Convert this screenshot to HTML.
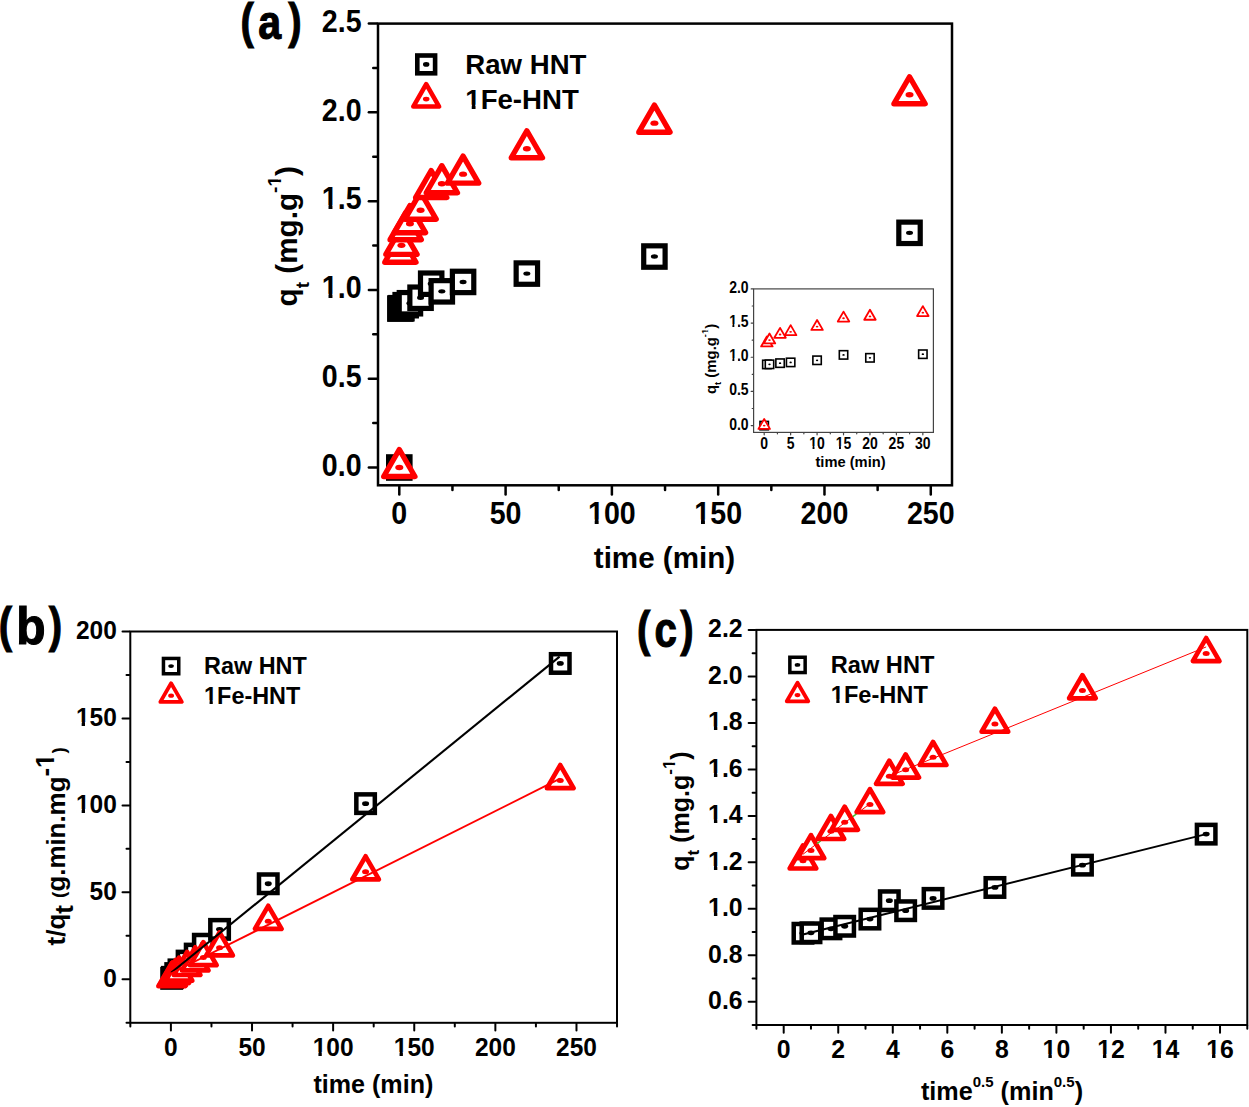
<!DOCTYPE html><html><head><meta charset="utf-8"><style>
html,body{margin:0;padding:0;background:#fff;}
svg{display:block;}
text{font-family:"Liberation Sans", sans-serif;font-weight:bold;fill:#000;}
</style></head><body>
<svg width="1249" height="1107" viewBox="0 0 1249 1107">
<rect width="1249" height="1107" fill="#fff"/>
<line x1="399.3" y1="486.55" x2="399.3" y2="494.45" stroke="#000" stroke-width="2.5" stroke-linecap="round"/>
<text transform="translate(399.3,523.8) scale(1,1.09)" font-size="28.6" text-anchor="middle" >0</text>
<line x1="505.6" y1="486.55" x2="505.6" y2="494.45" stroke="#000" stroke-width="2.5" stroke-linecap="round"/>
<text transform="translate(505.6,523.8) scale(1,1.09)" font-size="28.6" text-anchor="middle" >50</text>
<line x1="611.89" y1="486.55" x2="611.89" y2="494.45" stroke="#000" stroke-width="2.5" stroke-linecap="round"/>
<text transform="translate(611.89,523.8) scale(1,1.09)" font-size="28.6" text-anchor="middle" >100</text><g transform="translate(611.89,523.8) scale(1,1.09)"><rect x="-23.26" y="-3.92" width="6.07" height="4.92" fill="#fff"/><rect x="-13.26" y="-3.92" width="5.71" height="4.92" fill="#fff"/></g>
<line x1="718.18" y1="486.55" x2="718.18" y2="494.45" stroke="#000" stroke-width="2.5" stroke-linecap="round"/>
<text transform="translate(718.18,523.8) scale(1,1.09)" font-size="28.6" text-anchor="middle" >150</text><g transform="translate(718.18,523.8) scale(1,1.09)"><rect x="-23.26" y="-3.92" width="6.07" height="4.92" fill="#fff"/><rect x="-13.26" y="-3.92" width="5.71" height="4.92" fill="#fff"/></g>
<line x1="824.48" y1="486.55" x2="824.48" y2="494.45" stroke="#000" stroke-width="2.5" stroke-linecap="round"/>
<text transform="translate(824.48,523.8) scale(1,1.09)" font-size="28.6" text-anchor="middle" >200</text>
<line x1="930.78" y1="486.55" x2="930.78" y2="494.45" stroke="#000" stroke-width="2.5" stroke-linecap="round"/>
<text transform="translate(930.78,523.8) scale(1,1.09)" font-size="28.6" text-anchor="middle" >250</text>
<line x1="452.45" y1="486.55" x2="452.45" y2="490.05" stroke="#000" stroke-width="2.5" stroke-linecap="round"/>
<line x1="558.74" y1="486.55" x2="558.74" y2="490.05" stroke="#000" stroke-width="2.5" stroke-linecap="round"/>
<line x1="665.04" y1="486.55" x2="665.04" y2="490.05" stroke="#000" stroke-width="2.5" stroke-linecap="round"/>
<line x1="771.33" y1="486.55" x2="771.33" y2="490.05" stroke="#000" stroke-width="2.5" stroke-linecap="round"/>
<line x1="877.63" y1="486.55" x2="877.63" y2="490.05" stroke="#000" stroke-width="2.5" stroke-linecap="round"/>
<line x1="376.75" y1="467.5" x2="368.85" y2="467.5" stroke="#000" stroke-width="2.5" stroke-linecap="round"/>
<text transform="translate(361.6,475.7) scale(1,1.09)" font-size="28.6" text-anchor="end" >0.0</text>
<line x1="376.75" y1="378.71" x2="368.85" y2="378.71" stroke="#000" stroke-width="2.5" stroke-linecap="round"/>
<text transform="translate(361.6,386.91) scale(1,1.09)" font-size="28.6" text-anchor="end" >0.5</text>
<line x1="376.75" y1="289.92" x2="368.85" y2="289.92" stroke="#000" stroke-width="2.5" stroke-linecap="round"/>
<text transform="translate(361.6,298.12) scale(1,1.09)" font-size="28.6" text-anchor="end" >1.0</text><g transform="translate(361.6,298.12) scale(1,1.09)"><rect x="-39.15" y="-3.92" width="6.07" height="4.92" fill="#fff"/><rect x="-29.15" y="-3.92" width="5.71" height="4.92" fill="#fff"/></g>
<line x1="376.75" y1="201.13" x2="368.85" y2="201.13" stroke="#000" stroke-width="2.5" stroke-linecap="round"/>
<text transform="translate(361.6,209.33) scale(1,1.09)" font-size="28.6" text-anchor="end" >1.5</text><g transform="translate(361.6,209.33) scale(1,1.09)"><rect x="-39.15" y="-3.92" width="6.07" height="4.92" fill="#fff"/><rect x="-29.15" y="-3.92" width="5.71" height="4.92" fill="#fff"/></g>
<line x1="376.75" y1="112.34" x2="368.85" y2="112.34" stroke="#000" stroke-width="2.5" stroke-linecap="round"/>
<text transform="translate(361.6,120.54) scale(1,1.09)" font-size="28.6" text-anchor="end" >2.0</text>
<line x1="376.75" y1="23.55" x2="368.85" y2="23.55" stroke="#000" stroke-width="2.5" stroke-linecap="round"/>
<text transform="translate(361.6,31.75) scale(1,1.09)" font-size="28.6" text-anchor="end" >2.5</text>
<line x1="376.75" y1="423.11" x2="373.25" y2="423.11" stroke="#000" stroke-width="2.5" stroke-linecap="round"/>
<line x1="376.75" y1="334.31" x2="373.25" y2="334.31" stroke="#000" stroke-width="2.5" stroke-linecap="round"/>
<line x1="376.75" y1="245.52" x2="373.25" y2="245.52" stroke="#000" stroke-width="2.5" stroke-linecap="round"/>
<line x1="376.75" y1="156.73" x2="373.25" y2="156.73" stroke="#000" stroke-width="2.5" stroke-linecap="round"/>
<line x1="376.75" y1="67.94" x2="373.25" y2="67.94" stroke="#000" stroke-width="2.5" stroke-linecap="round"/>
<rect x="378" y="23.6" width="574" height="461.7" fill="none" stroke="#000" stroke-width="2.5"/>
<rect x="388.6" y="456.8" width="21.4" height="21.4" fill="#fff" stroke="#000" stroke-width="5.2"/><ellipse cx="399.3" cy="467.5" rx="3.5" ry="2.2" fill="#000"/>
<rect x="389.66" y="297.87" width="21.4" height="21.4" fill="#fff" stroke="#000" stroke-width="5.2"/><ellipse cx="400.36" cy="308.57" rx="3.5" ry="2.2" fill="#000"/>
<rect x="390.73" y="297.51" width="21.4" height="21.4" fill="#fff" stroke="#000" stroke-width="5.2"/><ellipse cx="401.43" cy="308.21" rx="3.5" ry="2.2" fill="#000"/>
<rect x="394.98" y="294.49" width="21.4" height="21.4" fill="#fff" stroke="#000" stroke-width="5.2"/><ellipse cx="405.68" cy="305.19" rx="3.5" ry="2.2" fill="#000"/>
<rect x="399.23" y="292.54" width="21.4" height="21.4" fill="#fff" stroke="#000" stroke-width="5.2"/><ellipse cx="409.93" cy="303.24" rx="3.5" ry="2.2" fill="#000"/>
<rect x="409.86" y="287.03" width="21.4" height="21.4" fill="#fff" stroke="#000" stroke-width="5.2"/><ellipse cx="420.56" cy="297.73" rx="3.5" ry="2.2" fill="#000"/>
<rect x="420.49" y="273" width="21.4" height="21.4" fill="#fff" stroke="#000" stroke-width="5.2"/><ellipse cx="431.19" cy="283.7" rx="3.5" ry="2.2" fill="#000"/>
<rect x="431.12" y="280.64" width="21.4" height="21.4" fill="#fff" stroke="#000" stroke-width="5.2"/><ellipse cx="441.82" cy="291.34" rx="3.5" ry="2.2" fill="#000"/>
<rect x="452.38" y="271.23" width="21.4" height="21.4" fill="#fff" stroke="#000" stroke-width="5.2"/><ellipse cx="463.08" cy="281.93" rx="3.5" ry="2.2" fill="#000"/>
<rect x="516.15" y="262.88" width="21.4" height="21.4" fill="#fff" stroke="#000" stroke-width="5.2"/><ellipse cx="526.85" cy="273.58" rx="3.5" ry="2.2" fill="#000"/>
<rect x="643.71" y="245.83" width="21.4" height="21.4" fill="#fff" stroke="#000" stroke-width="5.2"/><ellipse cx="654.41" cy="256.53" rx="3.5" ry="2.2" fill="#000"/>
<rect x="898.82" y="222.13" width="21.4" height="21.4" fill="#fff" stroke="#000" stroke-width="5.2"/><ellipse cx="909.52" cy="232.83" rx="3.5" ry="2.2" fill="#000"/>
<path d="M399.3 449.49L414.9 476.51L383.7 476.51Z" fill="#fff" stroke="#f00" stroke-width="5.4" stroke-linejoin="round"/><ellipse cx="399.3" cy="467.5" rx="4" ry="2.7" fill="#f00"/>
<path d="M400.36 235.22L415.96 262.24L384.76 262.24Z" fill="#fff" stroke="#f00" stroke-width="5.4" stroke-linejoin="round"/><ellipse cx="400.36" cy="253.23" rx="4" ry="2.7" fill="#f00"/>
<path d="M401.43 227.33L417.03 254.35L385.83 254.35Z" fill="#fff" stroke="#f00" stroke-width="5.4" stroke-linejoin="round"/><ellipse cx="401.43" cy="245.35" rx="4" ry="2.7" fill="#f00"/>
<path d="M405.68 212.68L421.28 239.7L390.08 239.7Z" fill="#fff" stroke="#f00" stroke-width="5.4" stroke-linejoin="round"/><ellipse cx="405.68" cy="230.7" rx="4" ry="2.7" fill="#f00"/>
<path d="M409.93 205.67L425.53 232.69L394.33 232.69Z" fill="#fff" stroke="#f00" stroke-width="5.4" stroke-linejoin="round"/><ellipse cx="409.93" cy="223.68" rx="4" ry="2.7" fill="#f00"/>
<path d="M420.56 192.17L436.16 219.19L404.96 219.19Z" fill="#fff" stroke="#f00" stroke-width="5.4" stroke-linejoin="round"/><ellipse cx="420.56" cy="210.19" rx="4" ry="2.7" fill="#f00"/>
<path d="M431.19 170.51L446.79 197.53L415.59 197.53Z" fill="#fff" stroke="#f00" stroke-width="5.4" stroke-linejoin="round"/><ellipse cx="431.19" cy="188.52" rx="4" ry="2.7" fill="#f00"/>
<path d="M441.82 165.71L457.42 192.73L426.22 192.73Z" fill="#fff" stroke="#f00" stroke-width="5.4" stroke-linejoin="round"/><ellipse cx="441.82" cy="183.73" rx="4" ry="2.7" fill="#f00"/>
<path d="M463.08 156.13L478.68 183.14L447.48 183.14Z" fill="#fff" stroke="#f00" stroke-width="5.4" stroke-linejoin="round"/><ellipse cx="463.08" cy="174.14" rx="4" ry="2.7" fill="#f00"/>
<path d="M526.85 130.73L542.45 157.75L511.25 157.75Z" fill="#fff" stroke="#f00" stroke-width="5.4" stroke-linejoin="round"/><ellipse cx="526.85" cy="148.74" rx="4" ry="2.7" fill="#f00"/>
<path d="M654.41 105.16L670.01 132.18L638.81 132.18Z" fill="#fff" stroke="#f00" stroke-width="5.4" stroke-linejoin="round"/><ellipse cx="654.41" cy="123.17" rx="4" ry="2.7" fill="#f00"/>
<path d="M909.52 76.75L925.12 103.77L893.92 103.77Z" fill="#fff" stroke="#f00" stroke-width="5.4" stroke-linejoin="round"/><ellipse cx="909.52" cy="94.76" rx="4" ry="2.7" fill="#f00"/>
<rect x="417.3" y="55.5" width="17.8" height="17.8" fill="#fff" stroke="#000" stroke-width="4.6"/><ellipse cx="426.2" cy="64.4" rx="3.2" ry="2.3" fill="#000"/>
<path d="M426.2 84.2L439.1 106.55L413.3 106.55Z" fill="#fff" stroke="#f00" stroke-width="4.6" stroke-linejoin="round"/><ellipse cx="426.2" cy="99.1" rx="3.3" ry="2.3" fill="#f00"/>
<text x="465.3" y="73.6" font-size="27.6" text-anchor="start" >Raw HNT</text>
<text x="465.3" y="108.5" font-size="27.6" text-anchor="start" >1Fe-HNT</text><g><rect x="465.84" y="104.68" width="5.90" height="4.82" fill="#fff"/><rect x="475.53" y="104.68" width="5.55" height="4.82" fill="#fff"/></g>
<text x="664.5" y="568" font-size="29.6" text-anchor="middle" >time (min)</text>
<text transform="translate(297.2,236.3) rotate(-90)" font-size="29.7" text-anchor="middle">q<tspan font-size="19" dy="12">t</tspan><tspan dy="-12"> (mg.g</tspan><tspan font-size="19" dy="-16">-1</tspan><tspan dy="16">)</tspan></text><g transform="translate(297.2,236.3) rotate(-90)"><rect x="49.68" y="-18.94" width="4.44" height="3.94" fill="#fff"/><rect x="56.72" y="-18.94" width="4.20" height="3.94" fill="#fff"/></g>
<text transform="translate(247.2,38.19) scale(0.8,1)" font-size="50.2" text-anchor="middle" stroke="#000" stroke-width="1.1">(</text>
<text transform="translate(269.7,39.2) scale(0.85,1)" font-size="48.4" text-anchor="middle" stroke="#000" stroke-width="1.1">a</text>
<text transform="translate(294.9,38.19) scale(0.8,1)" font-size="50.2" text-anchor="middle" stroke="#000" stroke-width="1.1">)</text>
<line x1="764.2" y1="433" x2="764.2" y2="434.8" stroke="#444" stroke-width="1.2" stroke-linecap="round"/>
<text transform="translate(764.2,449) scale(1,1.15)" font-size="14" text-anchor="middle" >0</text>
<line x1="790.64" y1="433" x2="790.64" y2="434.8" stroke="#444" stroke-width="1.2" stroke-linecap="round"/>
<text transform="translate(790.64,449) scale(1,1.15)" font-size="14" text-anchor="middle" >5</text>
<line x1="817.08" y1="433" x2="817.08" y2="434.8" stroke="#444" stroke-width="1.2" stroke-linecap="round"/>
<text transform="translate(817.08,449) scale(1,1.15)" font-size="14" text-anchor="middle" >10</text><g transform="translate(817.08,449) scale(1,1.15)"><rect x="-8.10" y="-2.43" width="3.59" height="3.43" fill="#fff"/><rect x="-2.60" y="-2.43" width="3.41" height="3.43" fill="#fff"/></g>
<line x1="843.52" y1="433" x2="843.52" y2="434.8" stroke="#444" stroke-width="1.2" stroke-linecap="round"/>
<text transform="translate(843.52,449) scale(1,1.15)" font-size="14" text-anchor="middle" >15</text><g transform="translate(843.52,449) scale(1,1.15)"><rect x="-8.10" y="-2.43" width="3.59" height="3.43" fill="#fff"/><rect x="-2.60" y="-2.43" width="3.41" height="3.43" fill="#fff"/></g>
<line x1="869.96" y1="433" x2="869.96" y2="434.8" stroke="#444" stroke-width="1.2" stroke-linecap="round"/>
<text transform="translate(869.96,449) scale(1,1.15)" font-size="14" text-anchor="middle" >20</text>
<line x1="896.4" y1="433" x2="896.4" y2="434.8" stroke="#444" stroke-width="1.2" stroke-linecap="round"/>
<text transform="translate(896.4,449) scale(1,1.15)" font-size="14" text-anchor="middle" >25</text>
<line x1="922.84" y1="433" x2="922.84" y2="434.8" stroke="#444" stroke-width="1.2" stroke-linecap="round"/>
<text transform="translate(922.84,449) scale(1,1.15)" font-size="14" text-anchor="middle" >30</text>
<line x1="777.42" y1="433" x2="777.42" y2="433.8" stroke="#444" stroke-width="1.2" stroke-linecap="round"/>
<line x1="803.86" y1="433" x2="803.86" y2="433.8" stroke="#444" stroke-width="1.2" stroke-linecap="round"/>
<line x1="830.3" y1="433" x2="830.3" y2="433.8" stroke="#444" stroke-width="1.2" stroke-linecap="round"/>
<line x1="856.74" y1="433" x2="856.74" y2="433.8" stroke="#444" stroke-width="1.2" stroke-linecap="round"/>
<line x1="883.18" y1="433" x2="883.18" y2="433.8" stroke="#444" stroke-width="1.2" stroke-linecap="round"/>
<line x1="909.62" y1="433" x2="909.62" y2="433.8" stroke="#444" stroke-width="1.2" stroke-linecap="round"/>
<line x1="753" y1="425.6" x2="751.2" y2="425.6" stroke="#444" stroke-width="1.2" stroke-linecap="round"/>
<text transform="translate(748.6,429.5) scale(1,1.15)" font-size="14" text-anchor="end" >0.0</text>
<line x1="753" y1="391.44" x2="751.2" y2="391.44" stroke="#444" stroke-width="1.2" stroke-linecap="round"/>
<text transform="translate(748.6,395.33) scale(1,1.15)" font-size="14" text-anchor="end" >0.5</text>
<line x1="753" y1="357.27" x2="751.2" y2="357.27" stroke="#444" stroke-width="1.2" stroke-linecap="round"/>
<text transform="translate(748.6,361.17) scale(1,1.15)" font-size="14" text-anchor="end" >1.0</text><g transform="translate(748.6,361.17) scale(1,1.15)"><rect x="-19.78" y="-2.43" width="3.59" height="3.43" fill="#fff"/><rect x="-14.27" y="-2.43" width="3.41" height="3.43" fill="#fff"/></g>
<line x1="753" y1="323.11" x2="751.2" y2="323.11" stroke="#444" stroke-width="1.2" stroke-linecap="round"/>
<text transform="translate(748.6,327) scale(1,1.15)" font-size="14" text-anchor="end" >1.5</text><g transform="translate(748.6,327) scale(1,1.15)"><rect x="-19.78" y="-2.43" width="3.59" height="3.43" fill="#fff"/><rect x="-14.27" y="-2.43" width="3.41" height="3.43" fill="#fff"/></g>
<line x1="753" y1="288.94" x2="751.2" y2="288.94" stroke="#444" stroke-width="1.2" stroke-linecap="round"/>
<text transform="translate(748.6,292.84) scale(1,1.15)" font-size="14" text-anchor="end" >2.0</text>
<line x1="753" y1="408.52" x2="752.2" y2="408.52" stroke="#444" stroke-width="1.2" stroke-linecap="round"/>
<line x1="753" y1="374.35" x2="752.2" y2="374.35" stroke="#444" stroke-width="1.2" stroke-linecap="round"/>
<line x1="753" y1="340.19" x2="752.2" y2="340.19" stroke="#444" stroke-width="1.2" stroke-linecap="round"/>
<line x1="753" y1="306.02" x2="752.2" y2="306.02" stroke="#444" stroke-width="1.2" stroke-linecap="round"/>
<rect x="753.6" y="288.9" width="179.8" height="143.5" fill="none" stroke="#444" stroke-width="1.2"/>
<rect x="760" y="421.4" width="8.4" height="8.4" fill="#fff" stroke="#000" stroke-width="1.6"/><ellipse cx="764.2" cy="425.6" rx="1.2" ry="0.9" fill="#000"/>
<rect x="762.64" y="360.24" width="8.4" height="8.4" fill="#fff" stroke="#000" stroke-width="1.6"/><ellipse cx="766.84" cy="364.44" rx="1.2" ry="0.9" fill="#000"/>
<rect x="765.29" y="360.11" width="8.4" height="8.4" fill="#fff" stroke="#000" stroke-width="1.6"/><ellipse cx="769.49" cy="364.31" rx="1.2" ry="0.9" fill="#000"/>
<rect x="775.86" y="358.95" width="8.4" height="8.4" fill="#fff" stroke="#000" stroke-width="1.6"/><ellipse cx="780.06" cy="363.15" rx="1.2" ry="0.9" fill="#000"/>
<rect x="786.44" y="358.19" width="8.4" height="8.4" fill="#fff" stroke="#000" stroke-width="1.6"/><ellipse cx="790.64" cy="362.39" rx="1.2" ry="0.9" fill="#000"/>
<rect x="812.88" y="356.08" width="8.4" height="8.4" fill="#fff" stroke="#000" stroke-width="1.6"/><ellipse cx="817.08" cy="360.28" rx="1.2" ry="0.9" fill="#000"/>
<rect x="839.32" y="350.68" width="8.4" height="8.4" fill="#fff" stroke="#000" stroke-width="1.6"/><ellipse cx="843.52" cy="354.88" rx="1.2" ry="0.9" fill="#000"/>
<rect x="865.76" y="353.62" width="8.4" height="8.4" fill="#fff" stroke="#000" stroke-width="1.6"/><ellipse cx="869.96" cy="357.82" rx="1.2" ry="0.9" fill="#000"/>
<rect x="918.64" y="350" width="8.4" height="8.4" fill="#fff" stroke="#000" stroke-width="1.6"/><ellipse cx="922.84" cy="354.2" rx="1.2" ry="0.9" fill="#000"/>
<path d="M764.2 418.96L769.95 428.92L758.45 428.92Z" fill="#fff" stroke="#f00" stroke-width="1.8" stroke-linejoin="round"/><ellipse cx="764.2" cy="425.6" rx="1.3" ry="0.9" fill="#f00"/>
<path d="M766.84 336.51L772.59 346.47L761.09 346.47Z" fill="#fff" stroke="#f00" stroke-width="1.8" stroke-linejoin="round"/><ellipse cx="766.84" cy="343.15" rx="1.3" ry="0.9" fill="#f00"/>
<path d="M769.49 333.48L775.24 343.44L763.74 343.44Z" fill="#fff" stroke="#f00" stroke-width="1.8" stroke-linejoin="round"/><ellipse cx="769.49" cy="340.12" rx="1.3" ry="0.9" fill="#f00"/>
<path d="M780.06 327.84L785.81 337.8L774.31 337.8Z" fill="#fff" stroke="#f00" stroke-width="1.8" stroke-linejoin="round"/><ellipse cx="780.06" cy="334.48" rx="1.3" ry="0.9" fill="#f00"/>
<path d="M790.64 325.14L796.39 335.1L784.89 335.1Z" fill="#fff" stroke="#f00" stroke-width="1.8" stroke-linejoin="round"/><ellipse cx="790.64" cy="331.78" rx="1.3" ry="0.9" fill="#f00"/>
<path d="M817.08 319.95L822.83 329.91L811.33 329.91Z" fill="#fff" stroke="#f00" stroke-width="1.8" stroke-linejoin="round"/><ellipse cx="817.08" cy="326.59" rx="1.3" ry="0.9" fill="#f00"/>
<path d="M843.52 311.61L849.27 321.57L837.77 321.57Z" fill="#fff" stroke="#f00" stroke-width="1.8" stroke-linejoin="round"/><ellipse cx="843.52" cy="318.25" rx="1.3" ry="0.9" fill="#f00"/>
<path d="M869.96 309.77L875.71 319.73L864.21 319.73Z" fill="#fff" stroke="#f00" stroke-width="1.8" stroke-linejoin="round"/><ellipse cx="869.96" cy="316.41" rx="1.3" ry="0.9" fill="#f00"/>
<path d="M922.84 306.08L928.59 316.04L917.09 316.04Z" fill="#fff" stroke="#f00" stroke-width="1.8" stroke-linejoin="round"/><ellipse cx="922.84" cy="312.72" rx="1.3" ry="0.9" fill="#f00"/>
<text x="850.5" y="467" font-size="14.7" text-anchor="middle" >time (min)</text>
<text transform="translate(716.2,358.9) rotate(-90)" font-size="14.9" text-anchor="middle">q<tspan font-size="9.5" dy="5">t</tspan><tspan dy="-5"> (mg.g</tspan><tspan font-size="9.5" dy="-8.5">-1</tspan><tspan dy="8.5">)</tspan></text><g transform="translate(716.2,358.9) rotate(-90)"><rect x="24.32" y="-10.47" width="2.82" height="2.97" fill="#fff"/><rect x="28.44" y="-10.47" width="2.70" height="2.97" fill="#fff"/></g>
<line x1="170.9" y1="1023.8" x2="170.9" y2="1030.6" stroke="#000" stroke-width="2" stroke-linecap="round"/>
<text transform="translate(170.9,1055.6) scale(1,1.05)" font-size="24.5" text-anchor="middle" >0</text>
<line x1="252.02" y1="1023.8" x2="252.02" y2="1030.6" stroke="#000" stroke-width="2" stroke-linecap="round"/>
<text transform="translate(252.02,1055.6) scale(1,1.05)" font-size="24.5" text-anchor="middle" >50</text>
<line x1="333.13" y1="1023.8" x2="333.13" y2="1030.6" stroke="#000" stroke-width="2" stroke-linecap="round"/>
<text transform="translate(333.13,1055.6) scale(1,1.05)" font-size="24.5" text-anchor="middle" >100</text><g transform="translate(333.13,1055.6) scale(1,1.05)"><rect x="-20.09" y="-3.50" width="5.38" height="4.50" fill="#fff"/><rect x="-11.36" y="-3.50" width="5.06" height="4.50" fill="#fff"/></g>
<line x1="414.25" y1="1023.8" x2="414.25" y2="1030.6" stroke="#000" stroke-width="2" stroke-linecap="round"/>
<text transform="translate(414.25,1055.6) scale(1,1.05)" font-size="24.5" text-anchor="middle" >150</text><g transform="translate(414.25,1055.6) scale(1,1.05)"><rect x="-20.09" y="-3.50" width="5.38" height="4.50" fill="#fff"/><rect x="-11.36" y="-3.50" width="5.06" height="4.50" fill="#fff"/></g>
<line x1="495.36" y1="1023.8" x2="495.36" y2="1030.6" stroke="#000" stroke-width="2" stroke-linecap="round"/>
<text transform="translate(495.36,1055.6) scale(1,1.05)" font-size="24.5" text-anchor="middle" >200</text>
<line x1="576.48" y1="1023.8" x2="576.48" y2="1030.6" stroke="#000" stroke-width="2" stroke-linecap="round"/>
<text transform="translate(576.48,1055.6) scale(1,1.05)" font-size="24.5" text-anchor="middle" >250</text>
<line x1="130.34" y1="1023.8" x2="130.34" y2="1026.6" stroke="#000" stroke-width="2" stroke-linecap="round"/>
<line x1="211.46" y1="1023.8" x2="211.46" y2="1026.6" stroke="#000" stroke-width="2" stroke-linecap="round"/>
<line x1="292.57" y1="1023.8" x2="292.57" y2="1026.6" stroke="#000" stroke-width="2" stroke-linecap="round"/>
<line x1="373.69" y1="1023.8" x2="373.69" y2="1026.6" stroke="#000" stroke-width="2" stroke-linecap="round"/>
<line x1="454.8" y1="1023.8" x2="454.8" y2="1026.6" stroke="#000" stroke-width="2" stroke-linecap="round"/>
<line x1="535.92" y1="1023.8" x2="535.92" y2="1026.6" stroke="#000" stroke-width="2" stroke-linecap="round"/>
<line x1="617.03" y1="1023.8" x2="617.03" y2="1026.6" stroke="#000" stroke-width="2" stroke-linecap="round"/>
<line x1="129.3" y1="979.3" x2="122.5" y2="979.3" stroke="#000" stroke-width="2" stroke-linecap="round"/>
<text transform="translate(116.8,986.6) scale(1,1.05)" font-size="24.5" text-anchor="end" >0</text>
<line x1="129.3" y1="892.34" x2="122.5" y2="892.34" stroke="#000" stroke-width="2" stroke-linecap="round"/>
<text transform="translate(116.8,899.64) scale(1,1.05)" font-size="24.5" text-anchor="end" >50</text>
<line x1="129.3" y1="805.39" x2="122.5" y2="805.39" stroke="#000" stroke-width="2" stroke-linecap="round"/>
<text transform="translate(116.8,812.69) scale(1,1.05)" font-size="24.5" text-anchor="end" >100</text><g transform="translate(116.8,812.69) scale(1,1.05)"><rect x="-40.53" y="-3.50" width="5.38" height="4.50" fill="#fff"/><rect x="-31.79" y="-3.50" width="5.06" height="4.50" fill="#fff"/></g>
<line x1="129.3" y1="718.43" x2="122.5" y2="718.43" stroke="#000" stroke-width="2" stroke-linecap="round"/>
<text transform="translate(116.8,725.73) scale(1,1.05)" font-size="24.5" text-anchor="end" >150</text><g transform="translate(116.8,725.73) scale(1,1.05)"><rect x="-40.53" y="-3.50" width="5.38" height="4.50" fill="#fff"/><rect x="-31.79" y="-3.50" width="5.06" height="4.50" fill="#fff"/></g>
<line x1="129.3" y1="631.48" x2="122.5" y2="631.48" stroke="#000" stroke-width="2" stroke-linecap="round"/>
<text transform="translate(116.8,638.78) scale(1,1.05)" font-size="24.5" text-anchor="end" >200</text>
<line x1="129.3" y1="1022.78" x2="126.5" y2="1022.78" stroke="#000" stroke-width="2" stroke-linecap="round"/>
<line x1="129.3" y1="935.82" x2="126.5" y2="935.82" stroke="#000" stroke-width="2" stroke-linecap="round"/>
<line x1="129.3" y1="848.87" x2="126.5" y2="848.87" stroke="#000" stroke-width="2" stroke-linecap="round"/>
<line x1="129.3" y1="761.91" x2="126.5" y2="761.91" stroke="#000" stroke-width="2" stroke-linecap="round"/>
<line x1="129.3" y1="674.96" x2="126.5" y2="674.96" stroke="#000" stroke-width="2" stroke-linecap="round"/>
<rect x="130.3" y="631.5" width="486.7" height="391.3" fill="none" stroke="#000" stroke-width="2"/>
<rect x="162.46" y="969.08" width="18.5" height="18.5" fill="#fff" stroke="#000" stroke-width="4.5"/><ellipse cx="171.71" cy="978.33" rx="3.5" ry="2.4" fill="#000"/>
<rect x="163.27" y="968.11" width="18.5" height="18.5" fill="#fff" stroke="#000" stroke-width="4.5"/><ellipse cx="172.52" cy="977.36" rx="3.5" ry="2.4" fill="#000"/>
<rect x="166.52" y="964.34" width="18.5" height="18.5" fill="#fff" stroke="#000" stroke-width="4.5"/><ellipse cx="175.77" cy="973.59" rx="3.5" ry="2.4" fill="#000"/>
<rect x="169.76" y="960.65" width="18.5" height="18.5" fill="#fff" stroke="#000" stroke-width="4.5"/><ellipse cx="179.01" cy="969.9" rx="3.5" ry="2.4" fill="#000"/>
<rect x="177.87" y="951.86" width="18.5" height="18.5" fill="#fff" stroke="#000" stroke-width="4.5"/><ellipse cx="187.12" cy="961.11" rx="3.5" ry="2.4" fill="#000"/>
<rect x="185.98" y="944.85" width="18.5" height="18.5" fill="#fff" stroke="#000" stroke-width="4.5"/><ellipse cx="195.23" cy="954.1" rx="3.5" ry="2.4" fill="#000"/>
<rect x="194.1" y="934.99" width="18.5" height="18.5" fill="#fff" stroke="#000" stroke-width="4.5"/><ellipse cx="203.35" cy="944.24" rx="3.5" ry="2.4" fill="#000"/>
<rect x="210.32" y="920.12" width="18.5" height="18.5" fill="#fff" stroke="#000" stroke-width="4.5"/><ellipse cx="219.57" cy="929.37" rx="3.5" ry="2.4" fill="#000"/>
<rect x="258.99" y="874.5" width="18.5" height="18.5" fill="#fff" stroke="#000" stroke-width="4.5"/><ellipse cx="268.24" cy="883.75" rx="3.5" ry="2.4" fill="#000"/>
<rect x="356.33" y="794.38" width="18.5" height="18.5" fill="#fff" stroke="#000" stroke-width="4.5"/><ellipse cx="365.58" cy="803.63" rx="3.5" ry="2.4" fill="#000"/>
<rect x="551" y="654.21" width="18.5" height="18.5" fill="#fff" stroke="#000" stroke-width="4.5"/><ellipse cx="560.25" cy="663.46" rx="3.5" ry="2.4" fill="#000"/>
<path d="M171.71 963.22L185.01 986.26L158.41 986.26Z" fill="#fff" stroke="#f00" stroke-width="4.7" stroke-linejoin="round"/><ellipse cx="171.71" cy="978.58" rx="3.5" ry="2.5" fill="#f00"/>
<path d="M172.52 962.55L185.82 985.59L159.22 985.59Z" fill="#fff" stroke="#f00" stroke-width="4.7" stroke-linejoin="round"/><ellipse cx="172.52" cy="977.91" rx="3.5" ry="2.5" fill="#f00"/>
<path d="M175.77 960.03L189.07 983.07L162.47 983.07Z" fill="#fff" stroke="#f00" stroke-width="4.7" stroke-linejoin="round"/><ellipse cx="175.77" cy="975.39" rx="3.5" ry="2.5" fill="#f00"/>
<path d="M179.01 957.61L192.31 980.65L165.71 980.65Z" fill="#fff" stroke="#f00" stroke-width="4.7" stroke-linejoin="round"/><ellipse cx="179.01" cy="972.97" rx="3.5" ry="2.5" fill="#f00"/>
<path d="M187.12 951.94L200.42 974.98L173.82 974.98Z" fill="#fff" stroke="#f00" stroke-width="4.7" stroke-linejoin="round"/><ellipse cx="187.12" cy="967.3" rx="3.5" ry="2.5" fill="#f00"/>
<path d="M195.23 947.34L208.53 970.37L181.93 970.37Z" fill="#fff" stroke="#f00" stroke-width="4.7" stroke-linejoin="round"/><ellipse cx="195.23" cy="962.69" rx="3.5" ry="2.5" fill="#f00"/>
<path d="M203.35 942.18L216.65 965.21L190.05 965.21Z" fill="#fff" stroke="#f00" stroke-width="4.7" stroke-linejoin="round"/><ellipse cx="203.35" cy="957.53" rx="3.5" ry="2.5" fill="#f00"/>
<path d="M219.57 932.36L232.87 955.4L206.27 955.4Z" fill="#fff" stroke="#f00" stroke-width="4.7" stroke-linejoin="round"/><ellipse cx="219.57" cy="947.72" rx="3.5" ry="2.5" fill="#f00"/>
<path d="M268.24 905.81L281.54 928.85L254.94 928.85Z" fill="#fff" stroke="#f00" stroke-width="4.7" stroke-linejoin="round"/><ellipse cx="268.24" cy="921.17" rx="3.5" ry="2.5" fill="#f00"/>
<path d="M365.58 856.31L378.88 879.35L352.28 879.35Z" fill="#fff" stroke="#f00" stroke-width="4.7" stroke-linejoin="round"/><ellipse cx="365.58" cy="871.67" rx="3.5" ry="2.5" fill="#f00"/>
<path d="M560.25 765.09L573.55 788.13L546.95 788.13Z" fill="#fff" stroke="#f00" stroke-width="4.7" stroke-linejoin="round"/><ellipse cx="560.25" cy="780.45" rx="3.5" ry="2.5" fill="#f00"/>
<line x1="171.1" y1="972.8" x2="559.6" y2="656.6" stroke="#000" stroke-width="2.1"/>
<line x1="170.9" y1="973.5" x2="560" y2="778.7" stroke="#f00" stroke-width="1.9"/>
<rect x="163.45" y="658.45" width="15.3" height="15.3" fill="#fff" stroke="#000" stroke-width="3.5"/><ellipse cx="171.1" cy="666.1" rx="2.8" ry="1.9" fill="#000"/>
<path d="M171.1 683.29L181.85 701.91L160.35 701.91Z" fill="#fff" stroke="#f00" stroke-width="3.8" stroke-linejoin="round"/><ellipse cx="171.1" cy="695.7" rx="2.9" ry="2.15" fill="#f00"/>
<text x="204.1" y="673.6" font-size="23.4" text-anchor="start" >Raw HNT</text>
<text x="204.1" y="703.7" font-size="23.4" text-anchor="start" >1Fe-HNT</text><g><rect x="204.37" y="700.31" width="5.19" height="4.39" fill="#fff"/><rect x="212.77" y="700.31" width="4.89" height="4.39" fill="#fff"/></g>
<text x="373.4" y="1092.5" font-size="25.1" text-anchor="middle" >time (min)</text>
<text transform="translate(65.4,846.3) rotate(-90)" font-size="25.9" text-anchor="middle">t/q<tspan dy="7.5">t</tspan><tspan dy="-7.5"> </tspan><tspan font-size="18.9">(</tspan>g.min.mg<tspan dy="-11.2">-1</tspan><tspan dy="11.2" font-size="18.9">)</tspan></text><g transform="translate(65.4,846.3) rotate(-90)"><rect x="78.80" y="-14.84" width="5.61" height="4.64" fill="#fff"/><rect x="87.97" y="-14.84" width="5.28" height="4.64" fill="#fff"/></g>
<text transform="translate(5.4,642.14) scale(0.8,1)" font-size="50.2" text-anchor="middle" stroke="#000" stroke-width="1.1">(</text>
<text transform="translate(30.8,643.75) scale(0.925,1)" font-size="51.9" text-anchor="middle" stroke="#000" stroke-width="1.1">b</text>
<text transform="translate(55.5,642.14) scale(0.8,1)" font-size="50.2" text-anchor="middle" stroke="#000" stroke-width="1.1">)</text>
<line x1="783.7" y1="1026" x2="783.7" y2="1032.8" stroke="#000" stroke-width="2" stroke-linecap="round"/>
<text transform="translate(783.7,1057.8) scale(1,1.04)" font-size="24.8" text-anchor="middle" >0</text>
<line x1="838.24" y1="1026" x2="838.24" y2="1032.8" stroke="#000" stroke-width="2" stroke-linecap="round"/>
<text transform="translate(838.24,1057.8) scale(1,1.04)" font-size="24.8" text-anchor="middle" >2</text>
<line x1="892.78" y1="1026" x2="892.78" y2="1032.8" stroke="#000" stroke-width="2" stroke-linecap="round"/>
<text transform="translate(892.78,1057.8) scale(1,1.04)" font-size="24.8" text-anchor="middle" >4</text>
<line x1="947.32" y1="1026" x2="947.32" y2="1032.8" stroke="#000" stroke-width="2" stroke-linecap="round"/>
<text transform="translate(947.32,1057.8) scale(1,1.04)" font-size="24.8" text-anchor="middle" >6</text>
<line x1="1001.86" y1="1026" x2="1001.86" y2="1032.8" stroke="#000" stroke-width="2" stroke-linecap="round"/>
<text transform="translate(1001.86,1057.8) scale(1,1.04)" font-size="24.8" text-anchor="middle" >8</text>
<line x1="1056.4" y1="1026" x2="1056.4" y2="1032.8" stroke="#000" stroke-width="2" stroke-linecap="round"/>
<text transform="translate(1056.4,1057.8) scale(1,1.04)" font-size="24.8" text-anchor="middle" >10</text><g transform="translate(1056.4,1057.8) scale(1,1.04)"><rect x="-13.43" y="-3.53" width="5.43" height="4.53" fill="#fff"/><rect x="-4.60" y="-3.53" width="5.11" height="4.53" fill="#fff"/></g>
<line x1="1110.94" y1="1026" x2="1110.94" y2="1032.8" stroke="#000" stroke-width="2" stroke-linecap="round"/>
<text transform="translate(1110.94,1057.8) scale(1,1.04)" font-size="24.8" text-anchor="middle" >12</text><g transform="translate(1110.94,1057.8) scale(1,1.04)"><rect x="-13.43" y="-3.53" width="5.43" height="4.53" fill="#fff"/><rect x="-4.60" y="-3.53" width="5.11" height="4.53" fill="#fff"/></g>
<line x1="1165.48" y1="1026" x2="1165.48" y2="1032.8" stroke="#000" stroke-width="2" stroke-linecap="round"/>
<text transform="translate(1165.48,1057.8) scale(1,1.04)" font-size="24.8" text-anchor="middle" >14</text><g transform="translate(1165.48,1057.8) scale(1,1.04)"><rect x="-13.43" y="-3.53" width="5.43" height="4.53" fill="#fff"/><rect x="-4.60" y="-3.53" width="5.11" height="4.53" fill="#fff"/></g>
<line x1="1220.02" y1="1026" x2="1220.02" y2="1032.8" stroke="#000" stroke-width="2" stroke-linecap="round"/>
<text transform="translate(1220.02,1057.8) scale(1,1.04)" font-size="24.8" text-anchor="middle" >16</text><g transform="translate(1220.02,1057.8) scale(1,1.04)"><rect x="-13.43" y="-3.53" width="5.43" height="4.53" fill="#fff"/><rect x="-4.60" y="-3.53" width="5.11" height="4.53" fill="#fff"/></g>
<line x1="756.43" y1="1026" x2="756.43" y2="1028.8" stroke="#000" stroke-width="2" stroke-linecap="round"/>
<line x1="810.97" y1="1026" x2="810.97" y2="1028.8" stroke="#000" stroke-width="2" stroke-linecap="round"/>
<line x1="865.51" y1="1026" x2="865.51" y2="1028.8" stroke="#000" stroke-width="2" stroke-linecap="round"/>
<line x1="920.05" y1="1026" x2="920.05" y2="1028.8" stroke="#000" stroke-width="2" stroke-linecap="round"/>
<line x1="974.59" y1="1026" x2="974.59" y2="1028.8" stroke="#000" stroke-width="2" stroke-linecap="round"/>
<line x1="1029.13" y1="1026" x2="1029.13" y2="1028.8" stroke="#000" stroke-width="2" stroke-linecap="round"/>
<line x1="1083.67" y1="1026" x2="1083.67" y2="1028.8" stroke="#000" stroke-width="2" stroke-linecap="round"/>
<line x1="1138.21" y1="1026" x2="1138.21" y2="1028.8" stroke="#000" stroke-width="2" stroke-linecap="round"/>
<line x1="1192.75" y1="1026" x2="1192.75" y2="1028.8" stroke="#000" stroke-width="2" stroke-linecap="round"/>
<line x1="1247.29" y1="1026" x2="1247.29" y2="1028.8" stroke="#000" stroke-width="2" stroke-linecap="round"/>
<line x1="755.4" y1="1001.8" x2="748.6" y2="1001.8" stroke="#000" stroke-width="2" stroke-linecap="round"/>
<text transform="translate(742.6,1009.1) scale(1,1.04)" font-size="24.8" text-anchor="end" >0.6</text>
<line x1="755.4" y1="955.32" x2="748.6" y2="955.32" stroke="#000" stroke-width="2" stroke-linecap="round"/>
<text transform="translate(742.6,962.62) scale(1,1.04)" font-size="24.8" text-anchor="end" >0.8</text>
<line x1="755.4" y1="908.84" x2="748.6" y2="908.84" stroke="#000" stroke-width="2" stroke-linecap="round"/>
<text transform="translate(742.6,916.14) scale(1,1.04)" font-size="24.8" text-anchor="end" >1.0</text><g transform="translate(742.6,916.14) scale(1,1.04)"><rect x="-34.11" y="-3.53" width="5.43" height="4.53" fill="#fff"/><rect x="-25.28" y="-3.53" width="5.11" height="4.53" fill="#fff"/></g>
<line x1="755.4" y1="862.36" x2="748.6" y2="862.36" stroke="#000" stroke-width="2" stroke-linecap="round"/>
<text transform="translate(742.6,869.66) scale(1,1.04)" font-size="24.8" text-anchor="end" >1.2</text><g transform="translate(742.6,869.66) scale(1,1.04)"><rect x="-34.11" y="-3.53" width="5.43" height="4.53" fill="#fff"/><rect x="-25.28" y="-3.53" width="5.11" height="4.53" fill="#fff"/></g>
<line x1="755.4" y1="815.88" x2="748.6" y2="815.88" stroke="#000" stroke-width="2" stroke-linecap="round"/>
<text transform="translate(742.6,823.18) scale(1,1.04)" font-size="24.8" text-anchor="end" >1.4</text><g transform="translate(742.6,823.18) scale(1,1.04)"><rect x="-34.11" y="-3.53" width="5.43" height="4.53" fill="#fff"/><rect x="-25.28" y="-3.53" width="5.11" height="4.53" fill="#fff"/></g>
<line x1="755.4" y1="769.4" x2="748.6" y2="769.4" stroke="#000" stroke-width="2" stroke-linecap="round"/>
<text transform="translate(742.6,776.7) scale(1,1.04)" font-size="24.8" text-anchor="end" >1.6</text><g transform="translate(742.6,776.7) scale(1,1.04)"><rect x="-34.11" y="-3.53" width="5.43" height="4.53" fill="#fff"/><rect x="-25.28" y="-3.53" width="5.11" height="4.53" fill="#fff"/></g>
<line x1="755.4" y1="722.92" x2="748.6" y2="722.92" stroke="#000" stroke-width="2" stroke-linecap="round"/>
<text transform="translate(742.6,730.22) scale(1,1.04)" font-size="24.8" text-anchor="end" >1.8</text><g transform="translate(742.6,730.22) scale(1,1.04)"><rect x="-34.11" y="-3.53" width="5.43" height="4.53" fill="#fff"/><rect x="-25.28" y="-3.53" width="5.11" height="4.53" fill="#fff"/></g>
<line x1="755.4" y1="676.44" x2="748.6" y2="676.44" stroke="#000" stroke-width="2" stroke-linecap="round"/>
<text transform="translate(742.6,683.74) scale(1,1.04)" font-size="24.8" text-anchor="end" >2.0</text>
<line x1="755.4" y1="629.96" x2="748.6" y2="629.96" stroke="#000" stroke-width="2" stroke-linecap="round"/>
<text transform="translate(742.6,637.26) scale(1,1.04)" font-size="24.8" text-anchor="end" >2.2</text>
<line x1="755.4" y1="1025.04" x2="752.6" y2="1025.04" stroke="#000" stroke-width="2" stroke-linecap="round"/>
<line x1="755.4" y1="978.56" x2="752.6" y2="978.56" stroke="#000" stroke-width="2" stroke-linecap="round"/>
<line x1="755.4" y1="932.08" x2="752.6" y2="932.08" stroke="#000" stroke-width="2" stroke-linecap="round"/>
<line x1="755.4" y1="885.6" x2="752.6" y2="885.6" stroke="#000" stroke-width="2" stroke-linecap="round"/>
<line x1="755.4" y1="839.12" x2="752.6" y2="839.12" stroke="#000" stroke-width="2" stroke-linecap="round"/>
<line x1="755.4" y1="792.64" x2="752.6" y2="792.64" stroke="#000" stroke-width="2" stroke-linecap="round"/>
<line x1="755.4" y1="746.16" x2="752.6" y2="746.16" stroke="#000" stroke-width="2" stroke-linecap="round"/>
<line x1="755.4" y1="699.68" x2="752.6" y2="699.68" stroke="#000" stroke-width="2" stroke-linecap="round"/>
<line x1="755.4" y1="653.2" x2="752.6" y2="653.2" stroke="#000" stroke-width="2" stroke-linecap="round"/>
<rect x="756.4" y="629.9" width="490.9" height="395.1" fill="none" stroke="#000" stroke-width="2"/>
<rect x="793.73" y="923.99" width="18.5" height="18.5" fill="#fff" stroke="#000" stroke-width="4.5"/><ellipse cx="802.98" cy="933.24" rx="3.5" ry="2.4" fill="#000"/>
<rect x="801.72" y="923.53" width="18.5" height="18.5" fill="#fff" stroke="#000" stroke-width="4.5"/><ellipse cx="810.97" cy="932.78" rx="3.5" ry="2.4" fill="#000"/>
<rect x="821.68" y="919.58" width="18.5" height="18.5" fill="#fff" stroke="#000" stroke-width="4.5"/><ellipse cx="830.93" cy="928.83" rx="3.5" ry="2.4" fill="#000"/>
<rect x="835.43" y="917.02" width="18.5" height="18.5" fill="#fff" stroke="#000" stroke-width="4.5"/><ellipse cx="844.68" cy="926.27" rx="3.5" ry="2.4" fill="#000"/>
<rect x="860.69" y="909.82" width="18.5" height="18.5" fill="#fff" stroke="#000" stroke-width="4.5"/><ellipse cx="869.94" cy="919.07" rx="3.5" ry="2.4" fill="#000"/>
<rect x="880.07" y="891.46" width="18.5" height="18.5" fill="#fff" stroke="#000" stroke-width="4.5"/><ellipse cx="889.32" cy="900.71" rx="3.5" ry="2.4" fill="#000"/>
<rect x="896.41" y="901.45" width="18.5" height="18.5" fill="#fff" stroke="#000" stroke-width="4.5"/><ellipse cx="905.66" cy="910.7" rx="3.5" ry="2.4" fill="#000"/>
<rect x="923.81" y="889.13" width="18.5" height="18.5" fill="#fff" stroke="#000" stroke-width="4.5"/><ellipse cx="933.06" cy="898.38" rx="3.5" ry="2.4" fill="#000"/>
<rect x="985.68" y="878.21" width="18.5" height="18.5" fill="#fff" stroke="#000" stroke-width="4.5"/><ellipse cx="994.93" cy="887.46" rx="3.5" ry="2.4" fill="#000"/>
<rect x="1073.18" y="855.9" width="18.5" height="18.5" fill="#fff" stroke="#000" stroke-width="4.5"/><ellipse cx="1082.43" cy="865.15" rx="3.5" ry="2.4" fill="#000"/>
<rect x="1196.92" y="824.87" width="18.5" height="18.5" fill="#fff" stroke="#000" stroke-width="4.5"/><ellipse cx="1206.17" cy="834.12" rx="3.5" ry="2.4" fill="#000"/>
<path d="M802.98 845.47L816.28 868.5L789.68 868.5Z" fill="#fff" stroke="#f00" stroke-width="4.7" stroke-linejoin="round"/><ellipse cx="802.98" cy="860.83" rx="3.5" ry="2.5" fill="#f00"/>
<path d="M810.97 835.15L824.27 858.19L797.67 858.19Z" fill="#fff" stroke="#f00" stroke-width="4.7" stroke-linejoin="round"/><ellipse cx="810.97" cy="850.51" rx="3.5" ry="2.5" fill="#f00"/>
<path d="M830.93 815.98L844.23 839.01L817.63 839.01Z" fill="#fff" stroke="#f00" stroke-width="4.7" stroke-linejoin="round"/><ellipse cx="830.93" cy="831.33" rx="3.5" ry="2.5" fill="#f00"/>
<path d="M844.68 806.8L857.98 829.83L831.38 829.83Z" fill="#fff" stroke="#f00" stroke-width="4.7" stroke-linejoin="round"/><ellipse cx="844.68" cy="822.15" rx="3.5" ry="2.5" fill="#f00"/>
<path d="M869.94 789.14L883.24 812.17L856.64 812.17Z" fill="#fff" stroke="#f00" stroke-width="4.7" stroke-linejoin="round"/><ellipse cx="869.94" cy="804.49" rx="3.5" ry="2.5" fill="#f00"/>
<path d="M889.32 760.78L902.62 783.82L876.02 783.82Z" fill="#fff" stroke="#f00" stroke-width="4.7" stroke-linejoin="round"/><ellipse cx="889.32" cy="776.14" rx="3.5" ry="2.5" fill="#f00"/>
<path d="M905.66 754.51L918.96 777.54L892.36 777.54Z" fill="#fff" stroke="#f00" stroke-width="4.7" stroke-linejoin="round"/><ellipse cx="905.66" cy="769.86" rx="3.5" ry="2.5" fill="#f00"/>
<path d="M933.06 741.96L946.36 764.99L919.76 764.99Z" fill="#fff" stroke="#f00" stroke-width="4.7" stroke-linejoin="round"/><ellipse cx="933.06" cy="757.32" rx="3.5" ry="2.5" fill="#f00"/>
<path d="M994.93 708.72L1008.23 731.76L981.63 731.76Z" fill="#fff" stroke="#f00" stroke-width="4.7" stroke-linejoin="round"/><ellipse cx="994.93" cy="724.08" rx="3.5" ry="2.5" fill="#f00"/>
<path d="M1082.43 675.26L1095.73 698.29L1069.13 698.29Z" fill="#fff" stroke="#f00" stroke-width="4.7" stroke-linejoin="round"/><ellipse cx="1082.43" cy="690.62" rx="3.5" ry="2.5" fill="#f00"/>
<path d="M1206.17 638.08L1219.47 661.11L1192.87 661.11Z" fill="#fff" stroke="#f00" stroke-width="4.7" stroke-linejoin="round"/><ellipse cx="1206.17" cy="653.43" rx="3.5" ry="2.5" fill="#f00"/>
<line x1="802.98" y1="934.49" x2="1206.17" y2="834.15" stroke="#000" stroke-width="2"/>
<line x1="802.8" y1="854.4" x2="869.7" y2="803.9" stroke="#f00" stroke-width="1"/>
<line x1="889.32" y1="776.14" x2="1206.17" y2="646.93" stroke="#f00" stroke-width="1"/>
<line x1="816.9" y1="843.75" x2="820.5" y2="841.05" stroke="#3c3" stroke-width="1.4"/>
<line x1="852.8" y1="816.65" x2="856.4" y2="813.95" stroke="#3c3" stroke-width="1.4"/>
<rect x="789.85" y="657.25" width="15.3" height="15.3" fill="#fff" stroke="#000" stroke-width="3.5"/><ellipse cx="797.5" cy="664.9" rx="2.8" ry="1.9" fill="#000"/>
<path d="M797.5 682.69L808.25 701.31L786.75 701.31Z" fill="#fff" stroke="#f00" stroke-width="3.8" stroke-linejoin="round"/><ellipse cx="797.5" cy="695.1" rx="2.9" ry="2.15" fill="#f00"/>
<text x="830.8" y="673" font-size="23.6" text-anchor="start" >Raw HNT</text>
<text x="830.8" y="702.8" font-size="23.6" text-anchor="start" >1Fe-HNT</text><g><rect x="831.09" y="699.39" width="5.22" height="4.41" fill="#fff"/><rect x="839.55" y="699.39" width="4.92" height="4.41" fill="#fff"/></g>
<text x="1002" y="1100.4" font-size="25.2" text-anchor="middle">time<tspan font-size="15" dy="-13.7">0.5</tspan><tspan dy="13.7"> (min</tspan><tspan font-size="15" dy="-13.7">0.5</tspan><tspan dy="13.7">)</tspan></text>
<text transform="translate(689,811) rotate(-90)" font-size="25" text-anchor="middle">q<tspan font-size="17" dy="10">t</tspan><tspan dy="-10"> (mg.g</tspan><tspan font-size="17" dy="-14">-1</tspan><tspan dy="14">)</tspan></text><g transform="translate(689,811) rotate(-90)"><rect x="41.78" y="-16.73" width="4.10" height="3.73" fill="#fff"/><rect x="48.21" y="-16.73" width="3.88" height="3.73" fill="#fff"/></g>
<text transform="translate(643.7,646.04) scale(0.8,1)" font-size="50.2" text-anchor="middle" stroke="#000" stroke-width="1.1">(</text>
<text transform="translate(665.8,647.15) scale(0.82,1)" font-size="49.1" text-anchor="middle" stroke="#000" stroke-width="1.1">c</text>
<text transform="translate(687,646.04) scale(0.8,1)" font-size="50.2" text-anchor="middle" stroke="#000" stroke-width="1.1">)</text>
</svg></body></html>
